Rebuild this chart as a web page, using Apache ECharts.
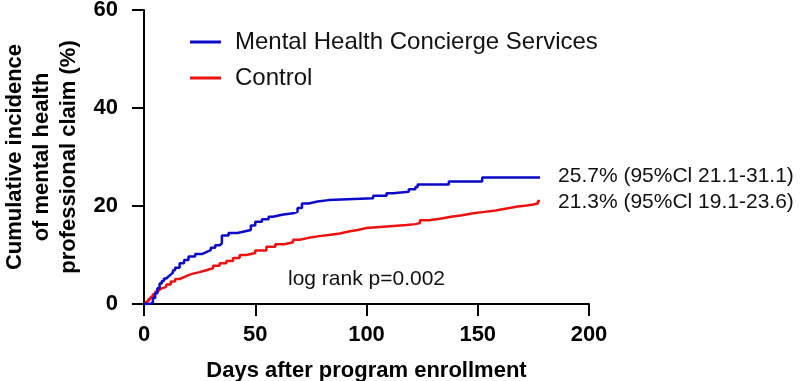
<!DOCTYPE html>
<html>
<head>
<meta charset="utf-8">
<script src="https://cdn.jsdelivr.net/npm/echarts@6/dist/echarts.min.js"></script>
<style>
  html, body { margin: 0; padding: 0; background: #fff; }
  #chart { width: 800px; height: 381px; }
</style>
</head>
<body>
<div id="chart"></div>
<script>
// Kaplan-Meier style cumulative incidence
const mhcsDays = [0, 2.7, 4, 5, 6, 7, 8, 9, 10, 11, 12, 13, 14, 16, 18, 20, 23, 26, 28, 30, 32, 34, 35, 38, 42, 46, 48, 50, 53, 56, 58, 62, 67, 69, 71, 74, 78, 83, 103, 109, 112, 119, 122, 123, 137, 152, 178];
const mhcsValues = [0, 0.3, 1.2, 2.2, 3.2, 4.2, 4.7, 5.2, 5.6, 6.0, 6.4, 6.9, 7.4, 8.3, 9.0, 9.7, 10.2, 10.6, 11.0, 11.5, 12.0, 12.4, 14.0, 14.5, 14.9, 15.1, 16.0, 16.8, 17.3, 17.8, 18.2, 18.5, 18.8, 19.6, 20.5, 20.9, 21.2, 21.6, 22.1, 22.6, 22.9, 23.4, 23.9, 24.4, 25.0, 25.8, 25.8];

const controlDays = [0, 1, 2, 3, 4, 5, 6, 7, 8, 10, 12, 14, 16, 18, 20, 22, 25, 28, 31, 34, 37, 40, 43, 46, 50, 55, 59, 63, 67, 70, 74, 78, 83, 88, 92, 96, 100, 106, 112, 118, 122, 124, 128, 133, 138, 143, 148, 153, 158, 163, 168, 172, 175, 177, 178];
const controlValues = [0, 0.5, 1.0, 1.5, 2.0, 2.5, 2.9, 3.2, 3.5, 4.0, 4.6, 5.1, 5.5, 5.9, 6.2, 6.5, 6.9, 7.3, 7.8, 8.3, 8.8, 9.4, 10.0, 10.4, 10.9, 11.7, 12.2, 12.6, 13.1, 13.5, 13.8, 14.1, 14.4, 14.8, 15.1, 15.5, 15.7, 15.9, 16.1, 16.3, 16.5, 17.1, 17.4, 17.8, 18.1, 18.5, 18.8, 19.1, 19.5, 19.9, 20.1, 20.3, 20.5, 21.0, 21.1];

const seriesNames = ['Mental Health Concierge Services', 'Control'];
const endLabels = ['25.7% (95%Cl 21.1-31.1)', '21.3% (95%Cl 19.1-23.6)'];
const xTicks = [0, 50, 100, 150, 200];
const yTicks = [0, 20, 40, 60];
const pValueText = 'log rank p=0.002';

const FONT = 'Liberation Sans, Arial, Helvetica, sans-serif';
const BLUE = '#0a0ac8';
const RED = '#ee1111';

const pair = (xs, ys) => xs.map((x, i) => [x, ys[i]]);

const chart = echarts.init(document.getElementById('chart'));

const axisCommon = {
  axisLine: { show: true, lineStyle: { color: '#000', width: 2 } },
  axisTick: { show: true, inside: false, length: 12, lineStyle: { color: '#000', width: 2 } },
  splitLine: { show: false },
  axisLabel: { color: '#000', fontSize: 22, fontWeight: 'bold', fontFamily: FONT },
  nameTextStyle: { color: '#000', fontSize: 22, fontWeight: 'bold', fontFamily: FONT }
};

const option = {
  animation: false,
  backgroundColor: '#fff',
  grid: { left: 144, right: 211, top: 10, bottom: 77, outerBoundsMode: 'none', containLabel: false },
  legend: {
    orient: 'vertical',
    left: 185,
    top: 24,
    itemWidth: 31,
    itemHeight: 3,
    itemGap: 10,
    icon: 'rect',
    data: [
      { name: seriesNames[0], itemStyle: { color: BLUE } },
      { name: seriesNames[1], itemStyle: { color: RED } }
    ],
    textStyle: { color: '#111', fontSize: 24, fontFamily: FONT, lineHeight: 26, padding: [0, 0, 0, 9] }
  },
  xAxis: Object.assign({}, axisCommon, {
    type: 'value',
    min: 0,
    max: 200,
    interval: 50,
    name: 'Days after program enrollment',
    nameLocation: 'middle',
    nameGap: 56,
    axisLabel: Object.assign({}, axisCommon.axisLabel, { margin: 20, formatter: v => xTicks.includes(v) ? String(v) : '' })
  }),
  yAxis: Object.assign({}, axisCommon, {
    type: 'value',
    min: 0,
    max: 60,
    interval: 20,
    name: 'Cumulative incidence\nof mental health\nprofessional claim (%)',
    nameLocation: 'middle',
    nameRotate: 90,
    nameGap: 61,
    nameTextStyle: Object.assign({}, axisCommon.nameTextStyle, { lineHeight: 27 }),
    axisLabel: Object.assign({}, axisCommon.axisLabel, { margin: 26, formatter: v => yTicks.includes(v) ? String(v) : '' })
  }),
  graphic: [{
    type: 'text',
    left: 288,
    top: 269,
    style: { text: pValueText, fill: '#111', fontSize: 21, fontFamily: FONT }
  }],
  series: [
    {
      name: seriesNames[0],
      type: 'line',
      step: 'end',
      symbol: 'none',
      z: 3,
      data: pair(mhcsDays, mhcsValues),
      lineStyle: { color: BLUE, width: 2.5 },
      itemStyle: { color: BLUE },
      endLabel: {
        show: true,
        distance: 18,
        formatter: endLabels[0],
        color: '#111',
        fontSize: 21,
        fontFamily: FONT,
        offset: [0, -1]
      }
    },
    {
      name: seriesNames[1],
      type: 'line',
      step: 'end',
      symbol: 'none',
      z: 2,
      data: pair(controlDays, controlValues),
      lineStyle: { color: RED, width: 2.5 },
      itemStyle: { color: RED },
      endLabel: {
        show: true,
        distance: 18,
        formatter: endLabels[1],
        color: '#111',
        fontSize: 21,
        fontFamily: FONT,
        offset: [0, 2]
      }
    }
  ]
};

chart.setOption(option);
</script>
</body>
</html>
